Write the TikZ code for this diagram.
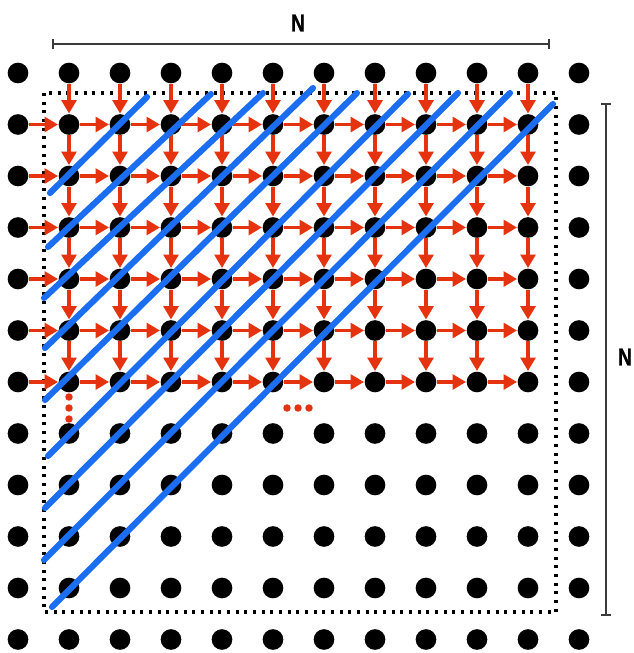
\documentclass[tikz,border=0pt]{standalone}
\usepackage{fontspec}
\newfontfamily\labfont{Liberation Sans Bold}[FakeBold=1.2]
\usetikzlibrary{arrows.meta}
\definecolor{rd}{HTML}{E5330F}
\definecolor{bl}{HTML}{1B6EF2}
\definecolor{gr}{HTML}{3A3A3A}
\begin{document}
\begin{tikzpicture}[x=0.75pt,y=-0.75pt,
  dot/.style={circle,fill=black,inner sep=0pt,minimum size=15.5pt},
  edot/.style={circle,fill=rd,inner sep=0pt,minimum size=5.6pt},
  rarr/.style={draw=rd,line width=2.6pt,-{Triangle[length=10pt,width=11pt]},shorten >=0.3pt},
  bline/.style={draw=bl,line width=4.6pt,line cap=round},
  frame/.style={draw=black,line width=2.3pt,dash pattern=on 2.3pt off 4.2pt},
  brack/.style={draw=gr,line width=1.8pt,{Bar[width=8pt]}-{Bar[width=8pt]}},
  lab/.style={font=\labfont\fontsize{18}{18}\selectfont,text=black,inner sep=0pt}]
\useasboundingbox (0,0) rectangle (633,653);
% dotted frame
\draw[frame] (44,93) rectangle (556,612);
% dots
\foreach \c in {0,...,11}{
  \foreach \r in {0,...,11}{
    \node[dot] (d-\c-\r) at ({18+51*\c},{73+51.5*\r}) {};
  }
}
% horizontal arrows
\foreach \r in {1,...,6}{
  \foreach \c in {0,...,9}{
    \pgfmathtruncatemacro{\n}{\c+1}
    \draw[rarr] (d-\c-\r) -- (d-\n-\r);
  }
}
% vertical arrows
\foreach \c in {1,...,10}{
  \foreach \r in {0,...,5}{
    \pgfmathtruncatemacro{\n}{\r+1}
    \draw[rarr] (d-\c-\r) -- (d-\c-\n);
  }
}
% ellipses
\node[edot] (ev1) at (69,397) {};
\node[edot] (ev2) at (69,408) {};
\node[edot] (ev3) at (69,419) {};
\node[edot] (eh1) at (287,408) {};
\node[edot] (eh2) at (298,408) {};
\node[edot] (eh3) at (309,408) {};
% blue diagonals
\coordinate (b3a) at (50,193);  \coordinate (b3b) at (147,97);
\coordinate (b4a) at (48,247);  \coordinate (b4b) at (211,94);
\coordinate (b5a) at (44,298);  \coordinate (b5b) at (263,93);
\coordinate (b6a) at (45,348);  \coordinate (b6b) at (313,88);
\coordinate (b7a) at (45,400);  \coordinate (b7b) at (357,93);
\coordinate (b8a) at (48,456);  \coordinate (b8b) at (408,94);
\coordinate (b9a) at (45,508);  \coordinate (b9b) at (458,93);
\coordinate (b10a) at (44,560); \coordinate (b10b) at (510,93);
\coordinate (b11a) at (52,607); \coordinate (b11b) at (553,104);
\foreach \k in {3,...,11}{
  \draw[bline] (b\k a) -- (b\k b);
}
% brackets and labels
\coordinate (t1) at (52,44); \coordinate (t2) at (550,44);
\draw[brack] (t1) -- (t2);
\coordinate (s1) at (606,103); \coordinate (s2) at (606,616);
\draw[brack] (s1) -- (s2);
\node[lab] (nt) at (298,23) {\scalebox{0.8}[1]{N}};
\node[lab] (nr) at (625,357) {\scalebox{0.8}[1]{N}};
\end{tikzpicture}
\end{document}
